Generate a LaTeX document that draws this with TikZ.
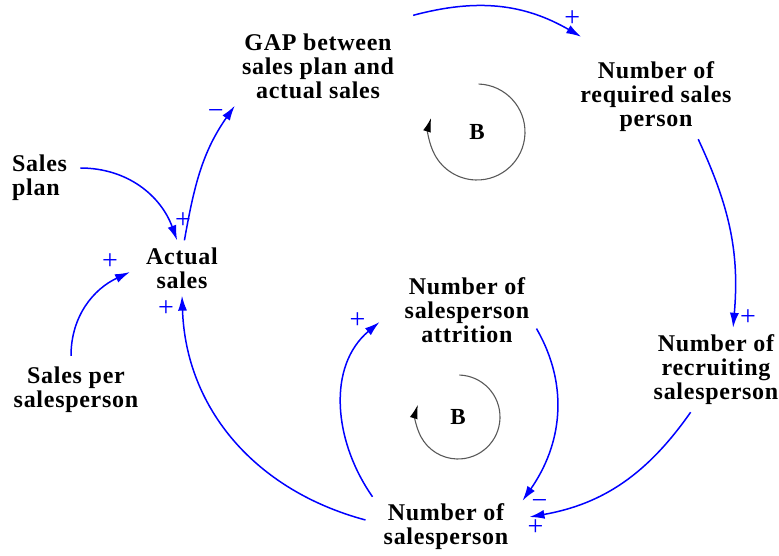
\documentclass[tikz,border=0pt]{standalone}
\usepackage{fontspec}
\setmainfont[LetterSpace=3]{Liberation Serif}
\usetikzlibrary{arrows.meta}

\begin{document}
\begin{tikzpicture}[x=1pt,y=1pt,
	var/.style={align=center,inner sep=7pt,font=\fontsize{24}{24}\selectfont\bfseries},
	link/.style={draw=blue,line width=1.5pt,-{Latex[length=15pt,width=9pt]}},
	sign/.style={text=blue,inner sep=0pt,font=\fontsize{28}{28}\selectfont},
	loopsign/.style={font=\fontsize{23}{23}\selectfont\bfseries},
	looparc/.style={draw=black!65,line width=1.1pt,-{Latex[length=14pt,width=8pt,black]}}]
	\useasboundingbox (0,0) rectangle (779,555);
	\node[var] (gap) at (318,489) {GAP between\\sales plan and\\actual sales};
	\node[var] (req) at (656,458) {Number of\\required sales\\person};
	\node[var,align=left,anchor=west] (plan) at (5,377) {Sales\\plan};
	\node[var] (actual) at (182,287) {Actual\\sales};
	\node[var] (per) at (76,165) {Sales per\\salesperson};
	\node[var] (attr) at (467,245) {Number of\\salesperson\\attrition};
	\node[var] (recr) at (716,185) {Number of\\recruiting\\salesperson};
	\node[var] (nsp) at (446,28) {Number of\\salesperson};
	\node[loopsign] (b1) at (477,423) {B};
	\node[loopsign] (b2) at (458,138) {B};
	%
	\path[every edge/.style=link]
		([shift={(6,10)}]plan.east) edge[out=0,in=110] node[sign,at end,shift={(6,20)}]{+} (actual.100)
		(actual.85) edge[out=80,in=235] node[sign,at end,shift={(-19,-9)}]{−} (gap.south west)
		([shift={(12,11)}]gap.north east) edge[out=15,in=150] node[sign,at end,shift={(-9,18)}]{+} ([shift={(8,18)}]req.north west)
		(req.-45) edge[out=-65,in=85] node[sign,at end,shift={(15,10)}]{+} (recr.68)
		(recr.239) edge[out=-125,in=10] node[sign,at end,shift={(6,-11)}]{+} ([shift={(14,10)}]nsp.east)
		(attr.-15) edge[out=-60,in=55] node[sign,at end,shift={(17,-4)}]{−} ([shift={(7,-4)}]nsp.north east)
		([shift={(-4,0)}]nsp.north west) edge[out=125,in=220] node[sign,at end,shift={(-22,1)}]{+} ([shift={(-18,-12)}]attr.west)
		([shift={(-11,7)}]nsp.west) edge[out=165,in=-88] node[sign,at end,shift={(-16,-13)}]{+} (actual.south)
		([shift={(-5,4)}]per.north) edge[out=90,in=205] node[sign,at end,shift={(-20,10)}]{+} ([shift={(-9,-4)}]actual.west);
	%
	\draw[looparc] (b1.center) ++(88:48pt) arc[start angle=88,end angle=-197,radius=48pt];
	\draw[looparc] (b2.center) ++(88:42pt) arc[start angle=88,end angle=-197,radius=42pt];
\end{tikzpicture}
\end{document}
